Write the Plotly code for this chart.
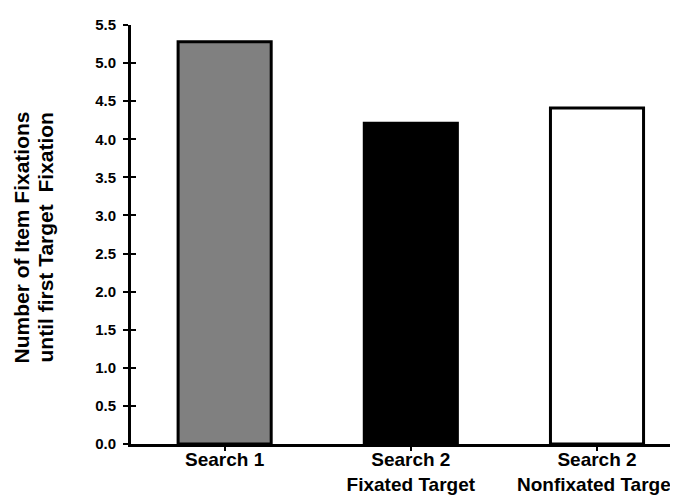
import plotly.graph_objects as go

categories = ["Search 1", "Search 2<br>Fixated Target", "Search 2<br>Nonfixated Target"]
values = [5.28, 4.21, 4.41]
bar_colors = ["#808080", "#000000", "#ffffff"]
y_ticks = [0.0, 0.5, 1.0, 1.5, 2.0, 2.5, 3.0, 3.5, 4.0, 4.5, 5.0, 5.5]
y_title_lines = ["Number of Item Fixations", "until first Target  Fixation"]

FONT = "Liberation Sans, Arial, sans-serif"

fig = go.Figure()
fig.add_trace(go.Bar(
    x=list(range(len(categories))),
    y=values,
    width=0.5,
    marker=dict(color=bar_colors, line=dict(color="black", width=3)),
    showlegend=False,
    hoverinfo="skip",
))
# invisible trace for overlay axis (inside ticks)
fig.add_trace(go.Scatter(x=[0], y=[0], yaxis="y2", mode="markers",
                         marker=dict(opacity=0), showlegend=False, hoverinfo="skip"))

fig.update_layout(
    width=678, height=495,
    margin=dict(l=123, r=0, t=17, b=59),
    plot_bgcolor="white", paper_bgcolor="white",
    font=dict(family=FONT, color="black"),
    xaxis=dict(
        range=[-0.503, 2.478],
        tickmode="array",
        tickvals=list(range(len(categories))),
        ticktext=categories,
        tickfont=dict(size=19, family=FONT, weight="bold", color="black"),
        ticks="outside", ticklen=4, tickwidth=2, tickcolor="black",
        ticklabelstandoff=-8,
        showline=True, linecolor="black", linewidth=3,
        showgrid=False, zeroline=False,
    ),
    yaxis=dict(
        range=[0, 5.5],
        tickmode="array",
        tickvals=y_ticks,
        ticktext=[f"{v:.1f}" for v in y_ticks],
        tickfont=dict(size=15, family=FONT, weight="bold", color="black"),
        ticks="outside", ticklen=5, tickwidth=2, tickcolor="black",
        ticklabelstandoff=4,
        showline=True, linecolor="black", linewidth=3,
        showgrid=False, zeroline=False,
    ),
    yaxis2=dict(
        overlaying="y", side="left", anchor="x",
        range=[0, 5.5],
        tickmode="array", tickvals=y_ticks,
        showticklabels=False,
        ticks="inside", ticklen=5, tickwidth=2, tickcolor="black",
        showline=False, showgrid=False, zeroline=False,
    ),
)

for i, (line, xpos) in enumerate(zip(y_title_lines, [13, 37])):
    fig.add_annotation(
        text=line, textangle=-90,
        xref="paper", yref="paper",
        x=0, y=0.5,
        xshift=xpos - 123, yshift=-3,
        xanchor="center", yanchor="middle",
        showarrow=False,
        font=dict(size=21, family=FONT, weight="bold", color="black"),
    )

fig.write_html("out.html")
